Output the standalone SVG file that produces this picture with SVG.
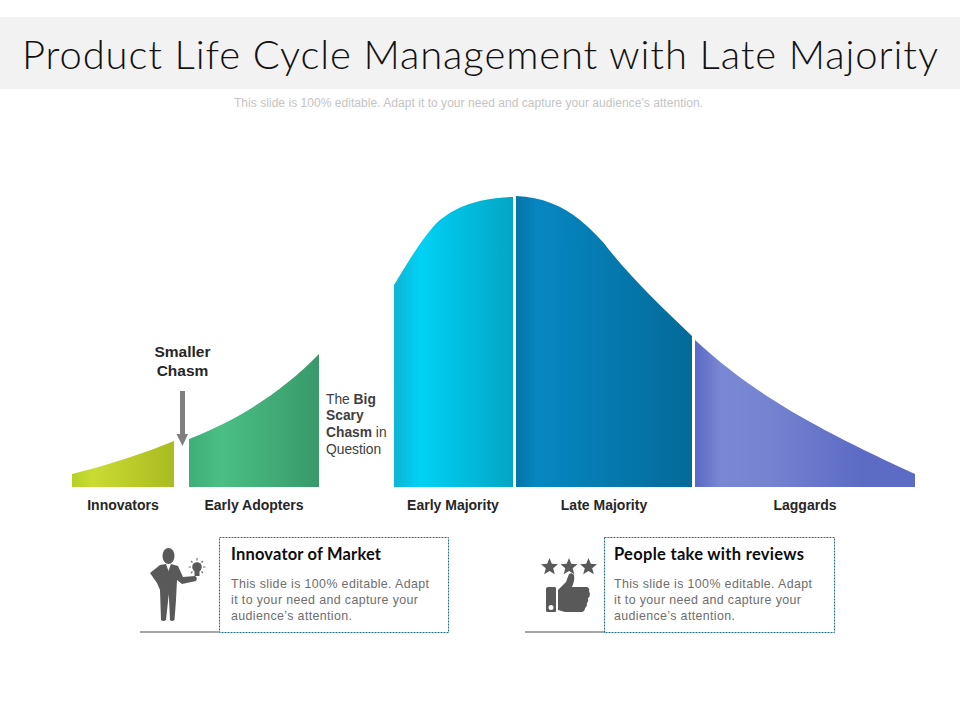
<svg xmlns="http://www.w3.org/2000/svg" width="960" height="720" viewBox="0 0 960 720">
<style>
text{font-family:"Liberation Sans",Arial,sans-serif}
.lab{font-size:14px;font-weight:700;fill:#262626;text-anchor:middle}
.side{font-size:13.800px;fill:#404040}
.head{font-size:16.500px;font-weight:700;fill:#0d0d0d;font-family:"Lato","Liberation Sans",sans-serif}
.body{font-size:12.400px;fill:#6e6e6e}
.box{fill:#fff;stroke:#1f6f8b;stroke-width:1;stroke-dasharray:2 1}
.ic{fill:#595959}
.rule{stroke:#a6a6a6;stroke-width:2}
</style>
<defs>
<linearGradient id="g1"><stop offset="0" stop-color="#b6d027"/><stop offset=".2" stop-color="#c8dc32"/><stop offset="1" stop-color="#a9bb20"/></linearGradient>
<linearGradient id="g2"><stop offset="0" stop-color="#3fae78"/><stop offset=".25" stop-color="#4abf84"/><stop offset="1" stop-color="#38996a"/></linearGradient>
<linearGradient id="g3"><stop offset="0" stop-color="#0fb4d4"/><stop offset=".22" stop-color="#00d2f5"/><stop offset="1" stop-color="#03a5c4"/></linearGradient>
<linearGradient id="g4"><stop offset="0" stop-color="#0673a6"/><stop offset=".12" stop-color="#0687c2"/><stop offset="1" stop-color="#046a98"/></linearGradient>
<linearGradient id="g5"><stop offset="0" stop-color="#5a6ac4"/><stop offset=".12" stop-color="#7a88d4"/><stop offset=".35" stop-color="#7482d0"/><stop offset=".75" stop-color="#5c6cc4"/><stop offset="1" stop-color="#5c6cc4"/></linearGradient>
</defs>
<rect x="0" y="17" width="960" height="72" fill="#f2f2f2"/>
<text x="22" y="69" font-size="40" font-weight="300" fill="#111" textLength="916" lengthAdjust="spacing" style="font-family:'Lato','Liberation Sans',sans-serif">Product Life Cycle Management with Late Majority</text>
<text x="468.500" y="107" font-size="12" fill="#c4c4c4" text-anchor="middle" textLength="469">This slide is 100% editable. Adapt it to your need and capture your audience’s attention.</text>

<g id="node-innovators"><path d="M72 474C108 465 142 454 174 441V487H72Z" fill="url(#g1)"/><text class="lab" x="123" y="510">Innovators</text></g>
<g id="node-early-adopters"><path d="M189 439C238 420 282 392 319 354V487H189Z" fill="url(#g2)"/><text class="lab" x="254" y="510">Early Adopters</text></g>
<g id="node-early-majority"><path d="M394 285C407 264 419 243 433 227C450 208 478 198 513 197V487H394Z" fill="url(#g3)"/><text class="lab" x="453" y="510">Early Majority</text></g>
<g id="node-late-majority"><path d="M516 196C542 197 563 206 580 220C591 229 601 239 610 251C636 283 664 309 692 336V487H516Z" fill="url(#g4)"/><text class="lab" x="604" y="510">Late Majority</text></g>
<g id="node-laggards"><path d="M695 340C720 363 745 382 770 398C805 421 860 449 915 474V487H695Z" fill="url(#g5)"/><text class="lab" x="805" y="510">Laggards</text></g>

<g id="node-smaller-chasm"><text x="182.500" y="357" font-size="15.500" font-weight="700" fill="#262626" text-anchor="middle">Smaller</text><text x="182.500" y="376" font-size="15.500" font-weight="700" fill="#262626" text-anchor="middle">Chasm</text></g>
<g id="node-big-chasm"><text class="side" x="326" y="404">The <tspan font-weight="700">Big</tspan></text><text class="side" x="326" y="420" font-weight="700">Scary</text><text class="side" x="326" y="437"><tspan font-weight="700">Chasm</tspan> in</text><text class="side" x="326" y="454">Question</text></g>

<g id="connectors">
<path d="M180 391H185V434H188L182.500 446L176.500 434H180Z" fill="#7f7f7f"/>
<path class="rule" d="M140 632H220"/>
<path class="rule" d="M525 632H605"/>
</g>

<g id="node-innovator-market">
<rect class="box" x="219.500" y="537.500" width="229" height="95"/>
<text class="head" x="231" y="560" textLength="150">Innovator of Market</text>
<text class="body" x="231" y="588" textLength="198">This slide is 100% editable. Adapt</text>
<text class="body" x="231" y="604" textLength="187">it to your need and capture your</text>
<text class="body" x="231" y="620" textLength="121">audience’s attention.</text>
<g class="ic">
<ellipse cx="168.500" cy="556" rx="6" ry="8"/>
<path d="M160 565L166 564L168.500 571L171 564L178 566L183 577L195 576Q198 578 196 581L182 584L177 580L176 600L174.500 620Q172 622 170 620L168.800 594L166 620Q163.500 622 161 620L160 590L157 583L150 573Z"/>
<circle cx="197" cy="567" r="4.800"/>
<rect x="194.500" y="571" width="5" height="5"/>
<path d="M197 558V560.500M188.500 567H191M203 567H205.500M191 561L192.500 562.500M203 561L201.500 562.500M191 573L192.500 571.500M203 573L201.500 571.500" stroke="#737373" stroke-width="1.200" fill="none"/>
</g>
</g>
<g id="node-people-reviews">
<rect class="box" x="604.500" y="537.500" width="230" height="95"/>
<text class="head" x="614" y="560" textLength="190">People take  with reviews</text>
<text class="body" x="614" y="588" textLength="198">This slide is 100% editable. Adapt</text>
<text class="body" x="614" y="604" textLength="187">it to your need and capture your</text>
<text class="body" x="614" y="620" textLength="121">audience’s attention.</text>
<g class="ic">
<path d="M549.500 558L551.800 563.800L558 564.200L553.200 568.200L554.800 574.300L549.500 571L544.200 574.300L545.800 568.200L541 564.200L547.200 563.800Z"/>
<path d="M569 558L571.300 563.800L577.500 564.200L572.700 568.200L574.300 574.300L569 571L563.700 574.300L565.300 568.200L560.500 564.200L566.700 563.800Z"/>
<path d="M588.500 558L590.800 563.800L597 564.200L592.200 568.200L593.800 574.300L588.500 571L583.200 574.300L584.800 568.200L580 564.200L586.200 563.800Z"/>
<path fill-rule="evenodd" d="M548 587H555Q556 587 556 589V611Q556 612 555 612H548Q546 612 546 611V589Q546 587 548 587ZM551 605A2.500 2.500 0 1 0 551 610A2.500 2.500 0 1 0 551 605Z"/>
<path d="M558 590L566 582L569 574Q572 572 574 575Q575 580 572 587L587 587Q590 588 589 591L590 594Q590 597 588 598Q589 601 587 603Q587 607 585 608Q585 611 582 612H565L558 610Z"/>
</g>
</g>
</svg>
